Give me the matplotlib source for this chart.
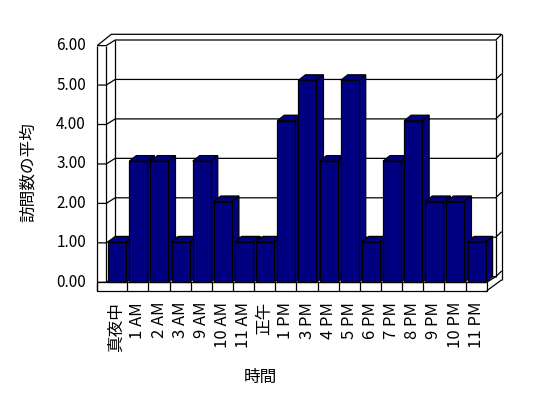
import matplotlib
matplotlib.use("Agg")
import matplotlib.pyplot as plt
from matplotlib.patches import Polygon

plt.rcParams['font.family'] = ['Noto Sans CJK JP', 'DejaVu Sans']

categories = ["真夜中", "1 AM", "2 AM", "3 AM", "9 AM", "10 AM", "11 AM", "正午",
              "1 PM", "3 PM", "4 PM", "5 PM", "6 PM", "7 PM", "8 PM", "9 PM",
              "10 PM", "11 PM"]
values = [1, 3, 3, 1, 3, 2, 1, 1, 4, 5, 3, 5, 1, 3, 4, 2, 2, 1]
y_ticks = [0, 1, 2, 3, 4, 5, 6]
y_tick_labels = ["0.00", "1.00", "2.00", "3.00", "4.00", "5.00", "6.00"]
x_title = "時間"
y_title = "訪問数の平均"

W, H, DPI = 548, 398, 100
CW = 21.14      # px per category
UNIT = 40.4     # px per value unit (bars)
GS = 39.45 / UNIT  # grid scale relative to bars
N = len(categories)

fig = plt.figure(figsize=(W / DPI, H / DPI), dpi=DPI)
x_left, y_base = 106.2, 282.3
ax = fig.add_axes([x_left / W, 1 - y_base / H, N * CW / W, 6 * UNIT / H])
ax.set_xlim(0, N)
ax.set_ylim(0, 6)
ax.axis('off')

def px_x(p):
    return p / CW

def px_y(p):
    return p / UNIT

navy = '#000080'
lw = 0.9
wdx, wdy = px_x(9), px_y(5.6)
outer_x = -px_x(9)
floor_bot = -px_y(8.5)
tip_dx, tip_dy = px_x(6), px_y(5.7)

def line(xs, ys, z=1):
    ax.plot(xs, ys, color='black', lw=lw, clip_on=False, zorder=z,
            solid_capstyle='butt')

# floor front face and top
ax.add_patch(Polygon([(outer_x, floor_bot), (N, floor_bot), (N, 0), (outer_x, 0)],
                     closed=True, fc='white', ec='black', lw=lw, clip_on=False, zorder=1))
for k in range(1, N):
    line([k, k], [floor_bot, 0])
line([N, N + wdx], [0, wdy])
# right outer edge of floor
line([N, N + wdx + tip_dx], [floor_bot, floor_bot + px_y(11)])

# grid lines on left wall and back wall
for v in y_ticks:
    yf = v * GS
    line([outer_x, 0, wdx, N + wdx, N + wdx + tip_dx],
         [yf, yf, yf + wdy, yf + wdy, yf + wdy + tip_dy])

top = 6 * GS
# left outer/inner verticals
line([outer_x, outer_x], [floor_bot, top])
line([0, 0], [0, top])
line([wdx, wdx], [wdy, top + wdy])
# right verticals
line([N + wdx, N + wdx], [wdy, top + wdy])
line([N + wdx + tip_dx, N + wdx + tip_dx], [floor_bot + px_y(11), top + wdy + tip_dy])
# top outer edge
line([outer_x, wdx - px_x(4), N + wdx + tip_dx],
     [top, top + wdy + tip_dy, top + wdy + tip_dy])

# bars
off, bw = px_x(2), px_x(18)
bdx, bdy = px_x(7), px_y(5.5)
for i, v in enumerate(values):
    x0 = i + off
    x1 = x0 + bw
    z = 3 + i
    side = [(x1, 0), (x1 + bdx, bdy), (x1 + bdx, v + bdy), (x1, v)]
    topf = [(x0, v), (x1, v), (x1 + bdx, v + bdy), (x0 + bdx, v + bdy)]
    front = [(x0, 0), (x1, 0), (x1, v), (x0, v)]
    for pts in (side, topf, front):
        ax.add_patch(Polygon(pts, closed=True, fc=navy, ec='black', lw=lw,
                             clip_on=False, zorder=z))

# y tick labels
for v, lab in zip(y_ticks, y_tick_labels):
    ax.text(px_x(86 - x_left), v * GS, lab, ha='right', va='center',
            fontsize=11, clip_on=False)

# x tick labels
for i, lab in enumerate(categories):
    ax.text(i + 0.5, px_y(y_base - 302), lab, rotation=90, ha='center', va='top',
            fontsize=12, clip_on=False)

fig.text(28 / W, 1 - 172 / H, y_title, rotation=90, ha='center', va='center', fontsize=12)
fig.text(260 / W, 1 - 377 / H, x_title, ha='center', va='center', fontsize=12)

fig.savefig('out.png', dpi=DPI)
